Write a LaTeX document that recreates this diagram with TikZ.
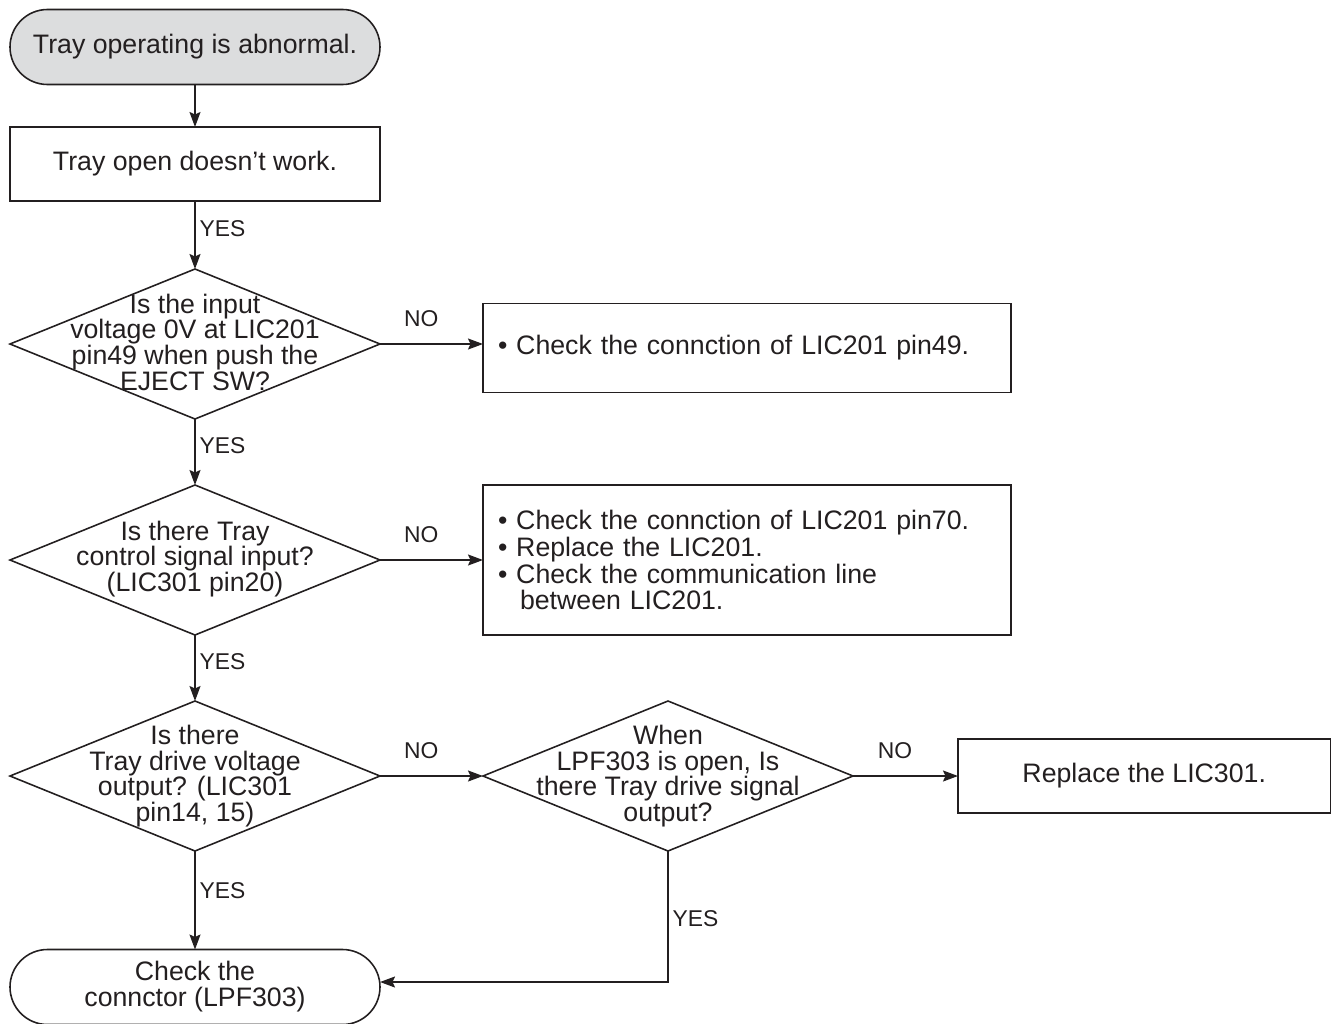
\documentclass[tikz,border=0pt]{standalone}
\usepackage{fontspec}
\setsansfont{Liberation Sans}
\usetikzlibrary{positioning, arrows.meta, shapes.geometric}
\definecolor{lineMain}{HTML}{231F20}
\definecolor{textMain}{HTML}{231F20}
\definecolor{bgStart}{HTML}{DCDDDE}
\tikzset{
  terminal/.style={
    draw=lineMain, rounded corners=0.75cm,
    minimum width=7.4cm, minimum height=1.5cm, inner sep=0pt, outer sep=0pt,
    font=\sffamily\fontsize{15.2}{14.8}\selectfont, text=textMain, line width=0.9pt, align=center,
  },
  procbox/.style={
    draw=lineMain, minimum height=1.48cm, inner sep=0pt, outer sep=0pt,
    font=\sffamily\fontsize{15.2}{15}\selectfont, text=textMain, line width=0.9pt, align=center,
  },
  notebox/.style={
    draw=lineMain, text width=9.96cm, inner xsep=0.3cm, inner ysep=0pt, outer sep=0pt,
    font=\sffamily\fontsize{15.2}{15.3}\selectfont, text=textMain, line width=0.9pt, align=left,
  },
  decision/.style={
    diamond, draw=lineMain, minimum width=7.4cm, minimum height=3.0cm,
    inner sep=0pt, outer sep=0pt, line width=0.9pt,
  },
  dtext/.style={
    font=\sffamily\fontsize{15.2}{14.6}\selectfont, text=textMain, align=center, inner sep=0pt,
  },
  ynlabel/.style={
    font=\sffamily\fontsize{13}{15}\selectfont, text=textMain, inner sep=1pt,
  },
  stdarrow/.style={
    -{Stealth[length=0.3cm, width=0.22cm, inset=0.05cm]}, line width=0.9pt, color=lineMain,
  },
}

\begin{document}
\begin{tikzpicture}

  \useasboundingbox (0,0) rectangle (26.64,-20.46);
  \clip (0,0) rectangle (26.64,-20.46);

  % === Start ===
  \node[terminal, fill=bgStart] (start) at (3.9,-0.94) {Tray operating is abnormal.};

  % === Tray open ===
  \node[procbox, minimum width=7.4cm, below=0.85cm of start] (trayopen) {Tray open doesn’t work.};

  % === Decisions, main column ===
  \node[decision, below=1.36cm of trayopen] (ejectq) {};
  \node[dtext] (ejectqt) at ([yshift=0.04cm]ejectq.center) {Is the input\\voltage 0V at LIC201\\pin49 when push the\\EJECT SW?};

  \node[decision, below=1.32cm of ejectq] (ctrlq) {};
  \node[dtext] (ctrlqt) at ([yshift=0.02cm]ctrlq.center) {Is there Tray\\control signal input?\\(LIC301 pin20)};

  \node[decision, below=1.32cm of ctrlq] (driveq) {};
  \node[dtext] (driveqt) at (driveq.center) {Is there\\Tray drive voltage\\output? (LIC301\\pin14, 15)};

  % === End ===
  \node[terminal, below=1.97cm of driveq] (connector) {Check the\\connctor (LPF303)};

  % === NO branches ===
  \node[notebox, minimum height=1.78cm, right=2.06cm of ejectq, yshift=-0.08cm] (checkpin) {• Check the connction of LIC201 pin49.};

  \node[notebox, minimum height=3.0cm, right=2.06cm of ctrlq] (checkcomm) {• Check the connction of LIC201 pin70.\\• Replace the LIC201.\\• Check the communication line\\\hspace*{0.44cm}between LIC201.};

  \node[decision, right=2.06cm of driveq] (signalq) {};
  \node[dtext] (signalqt) at (signalq.center) {When\\LPF303 is open, Is\\there Tray drive signal\\output?};

  \node[procbox, minimum width=7.45cm, right=2.1cm of signalq] (replace) {Replace the LIC301.};

  % === Arrows ===
  \draw[stdarrow] (start) -- (trayopen);
  \draw[stdarrow] (trayopen) -- node[ynlabel, pos=0.4, right=0.04cm] {YES} (ejectq);
  \draw[stdarrow] (ejectq) -- node[ynlabel, pos=0.4, right=0.04cm] {YES} (ctrlq);
  \draw[stdarrow] (ctrlq) -- node[ynlabel, pos=0.4, right=0.04cm] {YES} (driveq);
  \draw[stdarrow] (driveq) -- node[ynlabel, pos=0.4, right=0.04cm] {YES} (connector);

  \draw[stdarrow] (ejectq.east) -- node[ynlabel, pos=0.4, above=0.3cm] {NO} (ejectq.east -| checkpin.west);
  \draw[stdarrow] (ctrlq) -- node[ynlabel, pos=0.4, above=0.3cm] {NO} (checkcomm);
  \draw[stdarrow] (driveq) -- node[ynlabel, pos=0.4, above=0.3cm] {NO} (signalq);
  \draw[stdarrow] (signalq) -- node[ynlabel, pos=0.4, above=0.3cm] {NO} (replace);

  % Signal present: back to connector check
  \draw[stdarrow] (signalq.south) |- node[ynlabel, pos=0.26, right=0.04cm] {YES} ([yshift=0.1cm]connector.east);

\end{tikzpicture}
\end{document}
